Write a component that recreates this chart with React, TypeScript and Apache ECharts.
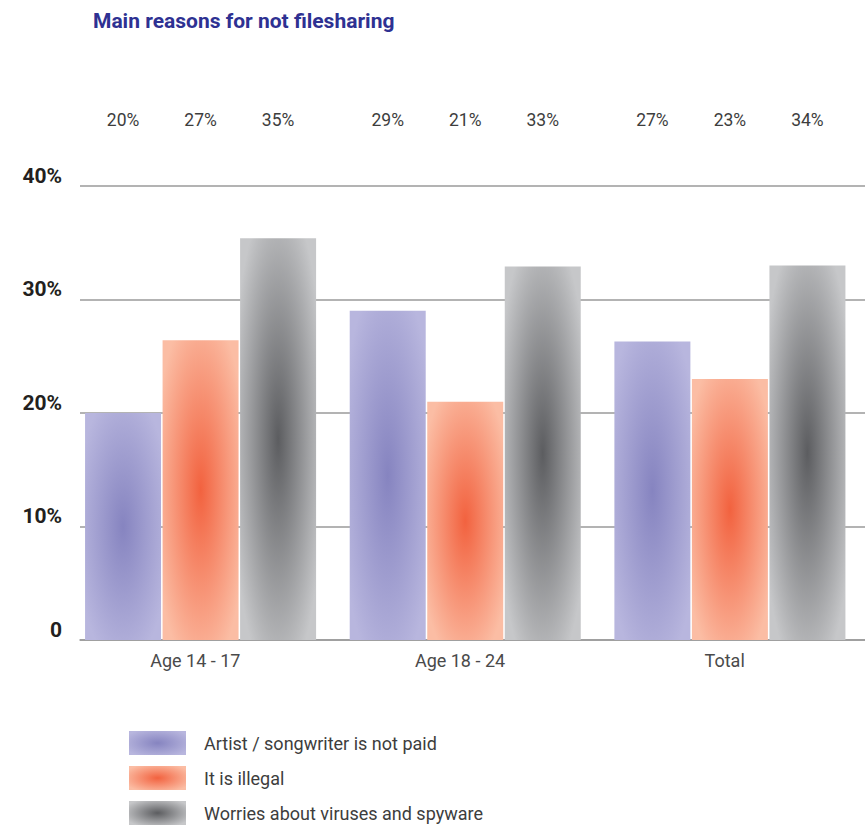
import React, { useEffect, useRef } from "react";
import * as echarts from "echarts";

const categories = ["Age 14 - 17", "Age 18 - 24", "Total"];
const seriesNames = [
  "Artist / songwriter is not paid",
  "It is illegal",
  "Worries about viruses and spyware",
];
// bar heights as drawn
const artistValues = [20.0, 29.0, 26.3];
const illegalValues = [26.4, 21.0, 23.0];
const virusValues = [35.4, 32.9, 33.0];
// value labels printed above
const artistLabels = [20, 29, 27];
const illegalLabels = [27, 21, 23];
const virusLabels = [35, 33, 34];
const yTicks = [0, 10, 20, 30, 40];

const FONT = "Roboto, 'DejaVu Sans', sans-serif";

const grad = (center: string, edge: string) =>
  new echarts.graphic.RadialGradient(0.5, 0.5, 0.62, [
    { offset: 0, color: center },
    { offset: 1, color: edge },
  ]);

const colors = [
  ["#8684c0", "#b8b6de"],
  ["#f2623f", "#fbbda4"],
  ["#5c5d60", "#c6c7c9"],
];

export default function App() {
  const ref = useRef<HTMLDivElement>(null);
  useEffect(() => {
    document.body.style.margin = "0";
    document.body.style.overflow = "hidden";
    if (!ref.current) return;
    const chart = echarts.init(ref.current, null, { renderer: "svg" });
    const values = [artistValues, illegalValues, virusValues];
    const labels = [artistLabels, illegalLabels, virusLabels];
    const BAR_W = 76;
    const GAP = "2%";
    const SPACER_W = 22;

    const realSeries: any[] = values.map((vals, i) => ({
      name: seriesNames[i],
      type: "bar",
      data: vals,
      barWidth: BAR_W,
      barGap: GAP,
      itemStyle: { color: grad(colors[i][0], colors[i][1]) },
      z: 3,
    }));
    realSeries.push({
      name: "_spacer",
      type: "bar",
      data: [null, null, null],
      barWidth: SPACER_W,
      barGap: GAP,
      silent: true,
    });
    const labelSeries: any[] = labels.map((labs, i) => ({
      name: "_label" + i,
      type: "bar",
      xAxisIndex: 1,
      yAxisIndex: 1,
      data: labs.map((l) => ({ value: 1, label: { formatter: `${l}%` } })),
      barWidth: BAR_W,
      barGap: GAP,
      silent: true,
      z: 1,
      itemStyle: { color: "rgba(0,0,0,0)" },
      label: {
        show: true,
        position: "top",
        distance: 57,
        fontFamily: FONT,
        fontSize: 17.5,
        color: "#3d3d3d",
      },
    }));
    labelSeries.push({
      name: "_labelspacer",
      type: "bar",
      xAxisIndex: 1,
      yAxisIndex: 1,
      data: [null, null, null],
      barWidth: SPACER_W,
      barGap: GAP,
      silent: true,
    });

    chart.setOption({
      animation: false,
      title: {
        text: "Main reasons for not filesharing",
        left: 93,
        top: 10,
        padding: 0,
        textStyle: {
          fontFamily: FONT,
          fontWeight: "bold",
          fontSize: 21,
          color: "#2e3192",
        },
      },
      legend: {
        data: seriesNames,
        orient: "vertical",
        left: 129,
        top: 731,
        height: 110,
        padding: 0,
        itemWidth: 57,
        itemHeight: 24,
        itemGap: 11,
        icon: "rect",
        selectedMode: false,
        textStyle: {
          fontFamily: FONT,
          fontSize: 18,
          color: "#3d3d3d",
          padding: [0, 0, 0, 13],
        },
      },
      grid: { left: 80, right: 0, top: 186, bottom: 185, containLabel: false },
      xAxis: [
        {
          type: "category",
          data: categories,
          axisTick: { show: false },
          axisLine: { lineStyle: { color: "#9a9a9a", width: 1.5 } },
          axisLabel: {
            fontFamily: FONT,
            fontSize: 18,
            color: "#4a4a4a",
            margin: 11,
            padding: [0, 34, 0, 0],
          },
        },
        {
          type: "category",
          data: categories,
          show: false,
        },
      ],
      yAxis: [
        {
          type: "value",
          min: yTicks[0],
          max: yTicks[yTicks.length - 1],
          interval: 10,
          axisLine: { show: false },
          axisTick: { show: false },
          splitLine: { lineStyle: { color: "#9a9a9a", width: 1.5 } },
          axisLabel: {
            formatter: (v: number) => (v === 0 ? "0" : `${v}%`),
            fontFamily: FONT,
            fontWeight: "bold",
            fontSize: 21,
            color: "#231f20",
            margin: 18,
            verticalAlign: "bottom",
          },
        },
        { type: "value", min: 0, max: 1, show: false },
      ],
      series: [...realSeries, ...labelSeries],
    });
    return () => chart.dispose();
  }, []);
  return <div ref={ref} style={{ width: 874, height: 825 }} />;
}
